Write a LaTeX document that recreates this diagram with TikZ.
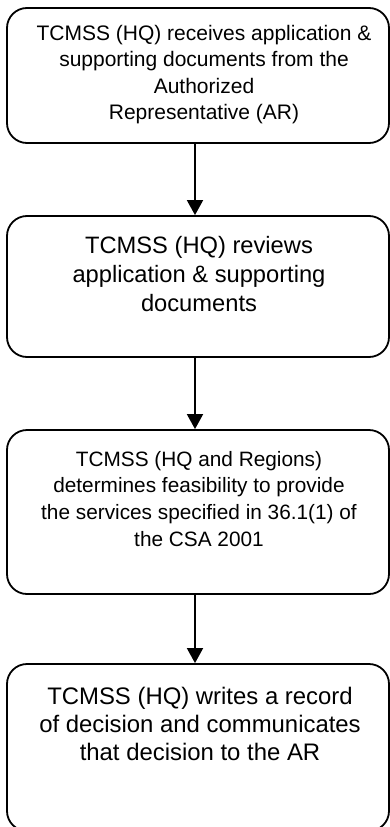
\documentclass[tikz,border=0pt]{standalone}
\usepackage{fontspec}
\setmainfont{Liberation Sans}
\usetikzlibrary{arrows.meta}
\begin{document}
\begin{tikzpicture}[x=1pt,y=-1pt,
  stepbox/.style={draw=black, line width=1.8pt, rounded corners=20pt, inner sep=0pt, minimum width=382pt},
  txt/.style={anchor=north, align=center, inner sep=0pt},
  arr/.style={line width=1.8pt, -{Triangle[length=15pt,width=16pt]}}]
\useasboundingbox (0,0) rectangle (390,827);
\node[stepbox, minimum height=135pt] (b1) at (198,75.5) {};
\node[stepbox, minimum height=141pt] (b2) at (198,286.5) {};
\node[stepbox, minimum height=164pt] (b3) at (198,512) {};
\node[stepbox, minimum height=167pt] (b4) at (198,747.5) {};
\node[txt, font=\fontsize{21pt}{26.3pt}\selectfont] (t1) at (204,25)
  {TCMSS (HQ) receives application \&\\supporting documents from the\\Authorized\\Representative (AR)};
\node[txt, font=\fontsize{23.7pt}{29pt}\selectfont] (t2) at (199,236)
  {TCMSS (HQ) reviews\\application \& supporting\\documents};
\node[txt, font=\fontsize{20.8pt}{26.7pt}\selectfont] (t3) at (199,451)
  {TCMSS (HQ and Regions)\\determines feasibility to provide\\the services specified in 36.1(1) of\\the CSA 2001};
\node[txt, font=\fontsize{23.9pt}{28pt}\selectfont] (t4) at (200,687)
  {TCMSS (HQ) writes a record\\of decision and communicates\\that decision to the AR};
\draw[arr] (b1.south -| 195,0) -- (b2.north -| 195,0);
\draw[arr] (b2.south -| 195,0) -- (b3.north -| 195,0);
\draw[arr] (b3.south -| 195,0) -- (b4.north -| 195,0);
\end{tikzpicture}
\end{document}
